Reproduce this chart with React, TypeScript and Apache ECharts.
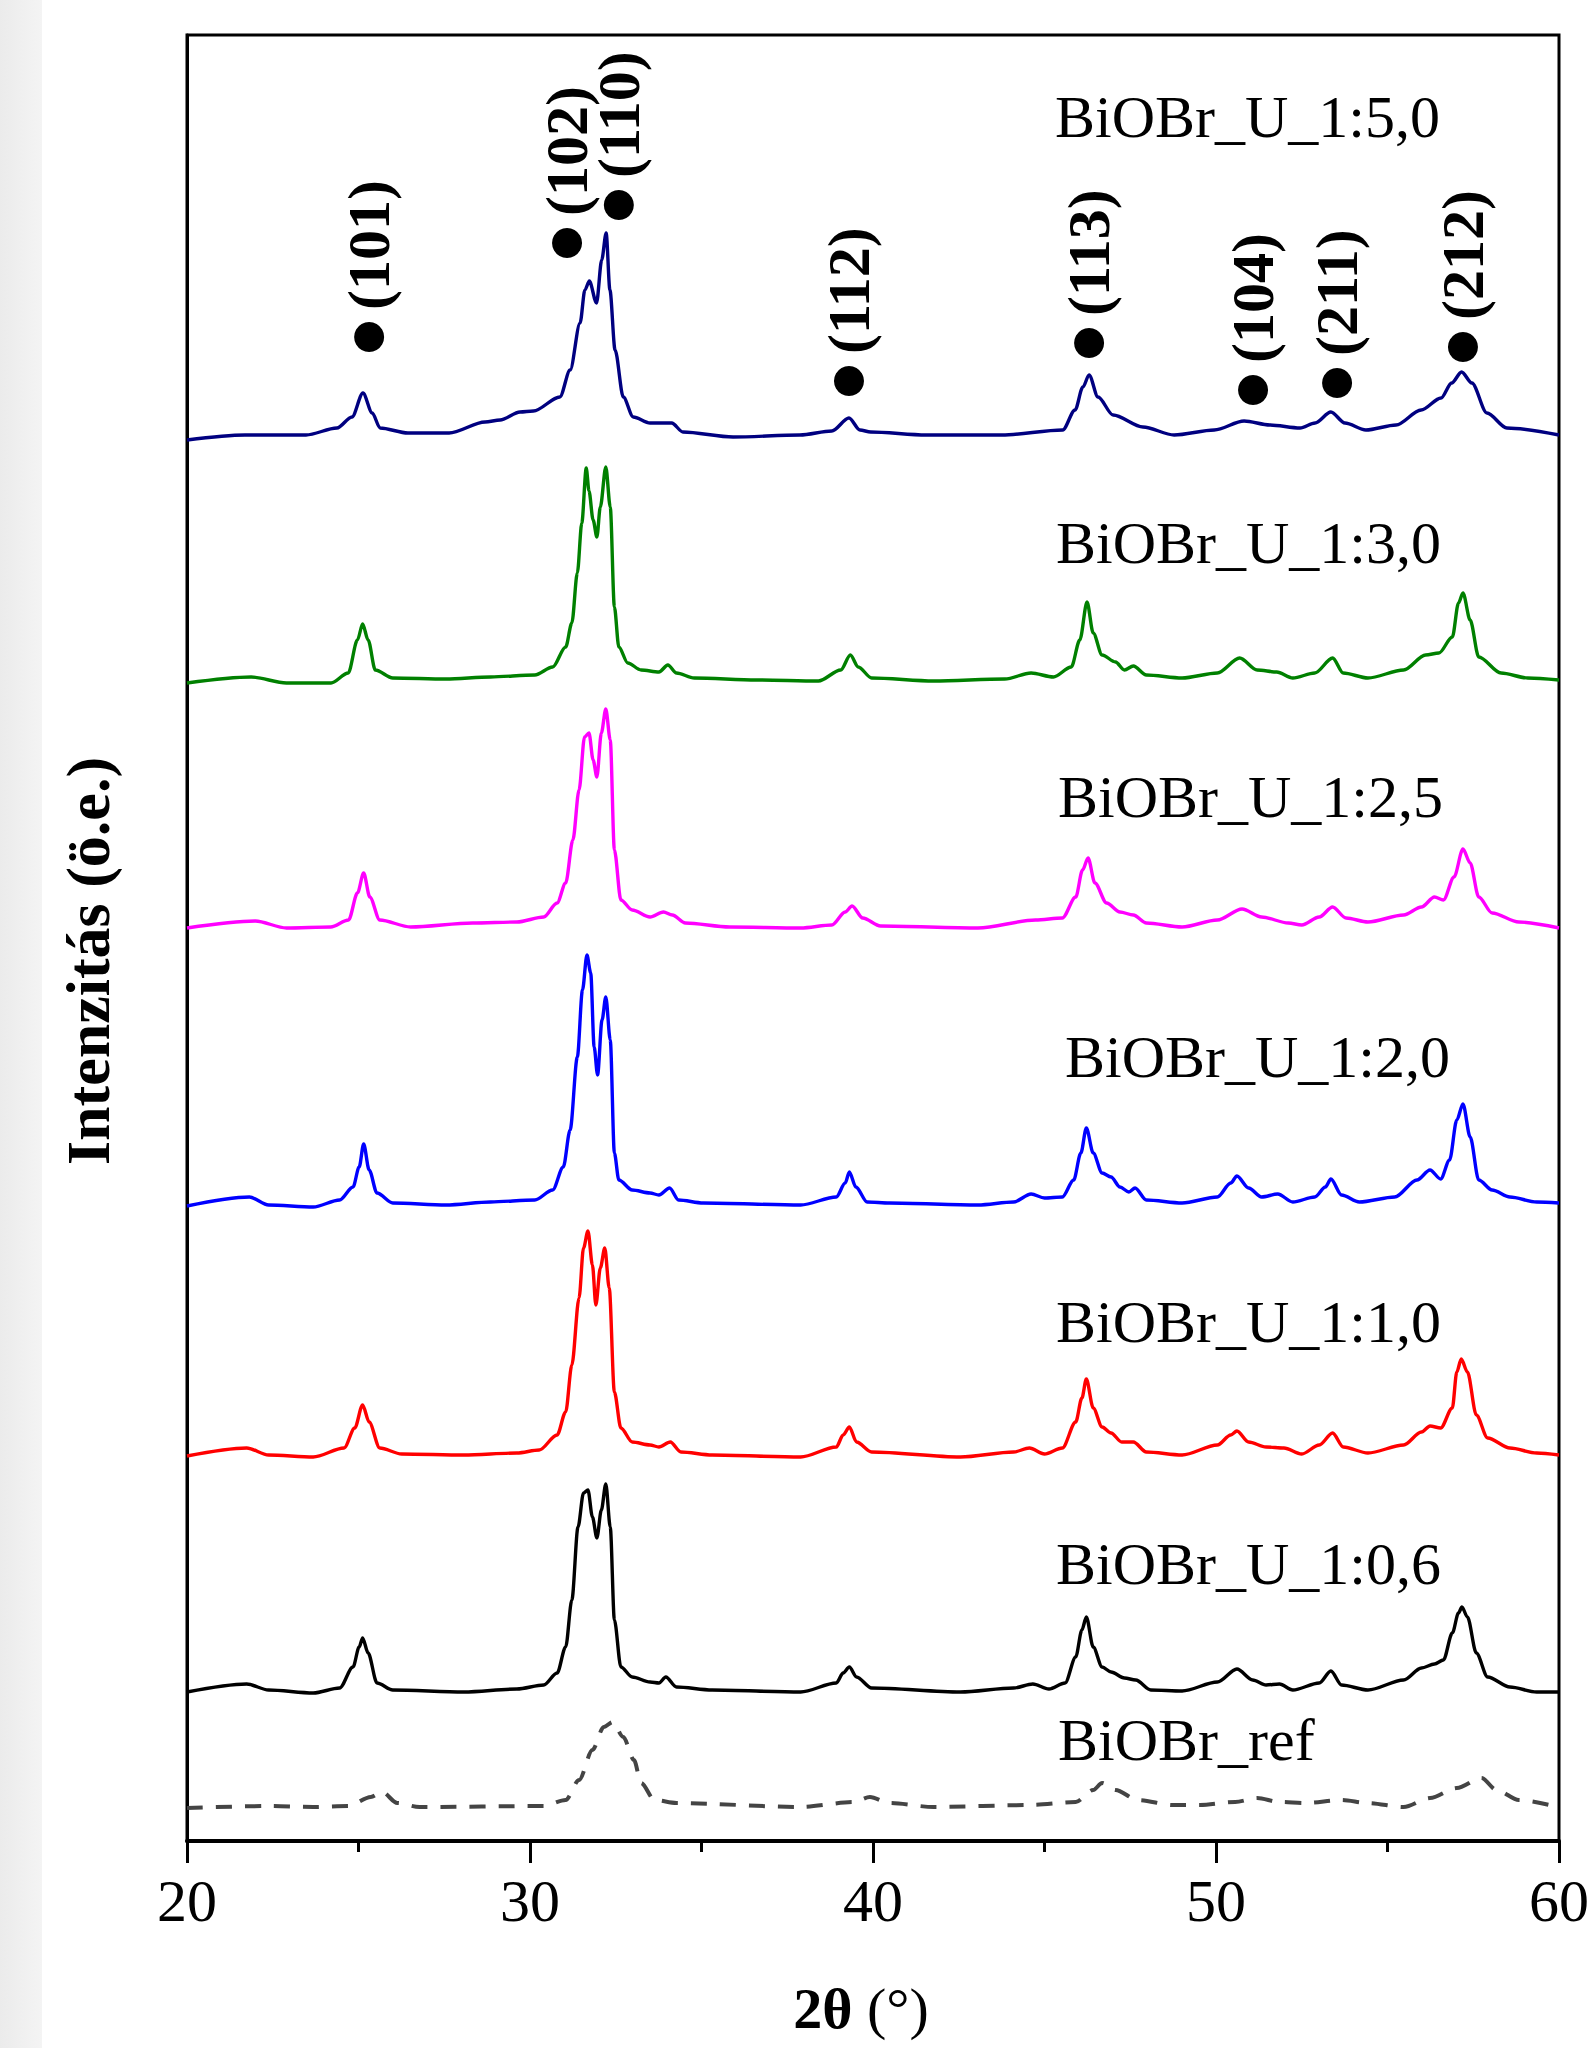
import React, { useEffect, useRef } from "react";
import * as echarts from "echarts";

// 2θ (°) vs. intensity (a.u., vertically offset stack)
const seriesNames = [
  "BiOBr_U_1:5,0",
  "BiOBr_U_1:3,0",
  "BiOBr_U_1:2,5",
  "BiOBr_U_1:2,0",
  "BiOBr_U_1:1,0",
  "BiOBr_U_1:0,6",
  "BiOBr_ref",
];

const u150: [number, number][] = [
  [20.0, 1401], [21.69, 1406], [23.47, 1406], [24.37, 1413], [24.81, 1424], [25.13, 1448], [25.4, 1428],
  [25.63, 1413], [26.44, 1408], [27.64, 1408], [28.69, 1419], [29.13, 1421], [29.71, 1429], [30.1, 1430],
  [30.87, 1444], [31.17, 1471], [31.46, 1518], [31.6, 1551], [31.73, 1560], [31.94, 1538], [32.09, 1581],
  [32.22, 1608], [32.33, 1551], [32.48, 1491], [32.72, 1444], [33.01, 1424], [33.5, 1418], [34.13, 1418],
  [34.46, 1409], [35.92, 1404], [37.87, 1406], [38.8, 1410], [39.3, 1423], [39.62, 1411], [39.93, 1409],
  [41.55, 1406], [43.76, 1406], [45.53, 1411], [45.89, 1431], [46.12, 1454], [46.3, 1466], [46.56, 1444],
  [47.0, 1426], [47.87, 1414], [48.78, 1406], [49.95, 1411], [50.82, 1420], [51.57, 1416], [52.45, 1413],
  [52.89, 1418], [53.35, 1429], [53.76, 1418], [54.37, 1411], [55.25, 1416], [55.98, 1431], [56.56, 1443],
  [56.87, 1458], [57.16, 1469], [57.46, 1458], [57.9, 1428], [58.48, 1413], [60.0, 1406],
];

const u130: [number, number][] = [
  [20.0, 1158], [21.87, 1164], [22.9, 1158], [24.2, 1158], [24.7, 1168], [24.97, 1201], [25.12, 1217],
  [25.28, 1201], [25.49, 1171], [26.0, 1163], [27.55, 1162], [28.85, 1164], [30.14, 1166], [30.66, 1174],
  [31.04, 1194], [31.22, 1218], [31.38, 1268], [31.51, 1318], [31.64, 1373], [31.72, 1350], [31.84, 1321],
  [31.95, 1304], [32.05, 1334], [32.21, 1374], [32.34, 1334], [32.46, 1234], [32.59, 1194], [32.85, 1178],
  [33.24, 1171], [33.76, 1169], [34.02, 1176], [34.27, 1168], [34.79, 1163], [36.6, 1161], [38.41, 1160],
  [39.06, 1171], [39.34, 1186], [39.57, 1174], [39.96, 1163], [41.77, 1160], [43.84, 1162], [44.61, 1168],
  [45.26, 1164], [45.78, 1174], [46.03, 1201], [46.24, 1239], [46.42, 1208], [46.68, 1186], [47.07, 1179],
  [47.33, 1171], [47.59, 1175], [47.97, 1166], [49.01, 1163], [50.04, 1168], [50.69, 1183], [51.2, 1171],
  [51.77, 1169], [52.24, 1163], [52.88, 1168], [53.4, 1183], [53.71, 1168], [54.43, 1163], [55.47, 1171],
  [56.11, 1186], [56.5, 1188], [56.89, 1204], [57.07, 1238], [57.2, 1248], [57.41, 1221], [57.66, 1184],
  [58.31, 1168], [59.09, 1163], [60.0, 1161],
];

const u125: [number, number][] = [
  [20.0, 913], [21.99, 920], [22.9, 913], [24.19, 914], [24.71, 921], [24.97, 948], [25.15, 968],
  [25.33, 944], [25.62, 921], [26.52, 914], [28.33, 918], [29.62, 919], [30.4, 924], [30.79, 938],
  [31.04, 958], [31.25, 1001], [31.43, 1051], [31.59, 1104], [31.72, 1108], [31.84, 1081], [31.95, 1064],
  [32.08, 1108], [32.21, 1132], [32.34, 1101], [32.46, 991], [32.65, 941], [32.98, 931], [33.5, 924],
  [33.89, 929], [34.15, 926], [34.53, 918], [35.82, 914], [37.89, 913], [38.8, 916], [39.19, 929],
  [39.39, 935], [39.7, 923], [40.22, 915], [43.06, 913], [44.74, 921], [45.52, 923], [45.91, 944],
  [46.11, 971], [46.27, 983], [46.47, 958], [46.81, 938], [47.2, 929], [47.59, 926], [47.97, 918],
  [49.01, 914], [50.04, 921], [50.76, 932], [51.33, 924], [52.11, 918], [52.5, 916], [53.01, 924],
  [53.4, 934], [53.79, 923], [54.43, 919], [55.47, 926], [55.99, 934], [56.37, 944], [56.63, 941],
  [56.94, 964], [57.2, 992], [57.41, 978], [57.66, 944], [58.05, 928], [58.83, 919], [60.0, 913],
];

const u120: [number, number][] = [
  [20.0, 635], [21.82, 644], [22.38, 636], [23.68, 634], [24.45, 641], [24.84, 654], [25.02, 674],
  [25.15, 697], [25.31, 671], [25.54, 648], [26.0, 638], [27.55, 636], [28.85, 639], [30.14, 641],
  [30.66, 651], [30.97, 674], [31.17, 711], [31.38, 784], [31.53, 851], [31.66, 886], [31.77, 868],
  [31.87, 794], [31.97, 766], [32.1, 821], [32.21, 844], [32.34, 801], [32.46, 688], [32.59, 661],
  [32.98, 651], [33.5, 648], [33.76, 646], [34.07, 653], [34.33, 641], [35.05, 638], [37.89, 636],
  [38.93, 644], [39.19, 658], [39.31, 669], [39.5, 654], [39.83, 639], [40.48, 638], [43.06, 636],
  [44.1, 639], [44.61, 647], [45.0, 643], [45.52, 644], [45.85, 661], [46.06, 688], [46.22, 713],
  [46.42, 688], [46.68, 668], [46.94, 664], [47.2, 654], [47.46, 649], [47.64, 653], [47.97, 641],
  [49.01, 638], [50.04, 644], [50.43, 658], [50.61, 665], [50.95, 653], [51.33, 644], [51.8, 647],
  [52.24, 639], [52.88, 644], [53.19, 654], [53.35, 662], [53.66, 646], [54.18, 639], [55.21, 644],
  [55.86, 661], [56.24, 671], [56.55, 662], [56.81, 681], [57.02, 721], [57.2, 737], [57.41, 704],
  [57.66, 661], [58.05, 651], [58.57, 644], [59.35, 639], [60.0, 638],
];

const u110: [number, number][] = [
  [20.0, 385], [21.74, 393], [22.38, 386], [23.68, 384], [24.58, 393], [24.89, 413], [25.12, 436],
  [25.31, 419], [25.62, 393], [26.26, 387], [28.07, 386], [29.62, 388], [30.27, 391], [30.79, 406],
  [31.04, 429], [31.22, 476], [31.43, 543], [31.56, 593], [31.69, 610], [31.82, 576], [31.92, 536],
  [32.05, 573], [32.18, 593], [32.31, 553], [32.46, 449], [32.65, 413], [32.98, 399], [33.5, 396],
  [33.76, 394], [34.09, 399], [34.4, 389], [35.31, 386], [37.89, 384], [38.93, 394], [39.13, 406],
  [39.31, 414], [39.52, 399], [39.96, 389], [42.55, 384], [44.1, 389], [44.56, 393], [45.0, 387],
  [45.52, 393], [45.91, 419], [46.09, 443], [46.22, 462], [46.42, 433], [46.68, 414], [46.94, 408],
  [47.25, 399], [47.59, 399], [47.97, 389], [49.01, 386], [50.04, 396], [50.43, 406], [50.61, 410],
  [50.95, 399], [51.46, 394], [51.98, 393], [52.5, 387], [53.01, 396], [53.4, 408], [53.71, 394],
  [54.43, 388], [55.47, 396], [55.99, 409], [56.24, 415], [56.55, 413], [56.89, 433], [57.02, 469],
  [57.15, 482], [57.33, 469], [57.59, 426], [57.92, 403], [58.57, 393], [59.35, 388], [60.0, 386],
];

const u106: [number, number][] = [
  [20.0, 149], [21.74, 157], [22.38, 151], [23.68, 148], [24.45, 153], [24.84, 174], [25.02, 194],
  [25.12, 203], [25.28, 188], [25.54, 158], [26.0, 151], [28.07, 149], [29.62, 152], [30.4, 156],
  [30.79, 168], [31.04, 194], [31.22, 241], [31.4, 314], [31.56, 348], [31.69, 351], [31.82, 324],
  [31.95, 303], [32.08, 331], [32.21, 357], [32.34, 314], [32.46, 221], [32.65, 174], [32.98, 164],
  [33.5, 159], [33.76, 158], [33.96, 164], [34.27, 154], [35.31, 151], [37.89, 149], [38.93, 158],
  [39.13, 168], [39.31, 174], [39.52, 164], [39.96, 153], [42.55, 149], [44.1, 153], [44.66, 157],
  [45.13, 152], [45.6, 158], [45.91, 184], [46.09, 211], [46.22, 224], [46.42, 194], [46.68, 174],
  [46.94, 169], [47.33, 163], [47.66, 161], [48.1, 151], [49.01, 150], [50.04, 159], [50.61, 172],
  [51.07, 161], [51.46, 156], [51.85, 157], [52.24, 151], [53.01, 158], [53.35, 170], [53.66, 156],
  [54.43, 151], [55.47, 161], [55.99, 173], [56.37, 177], [56.63, 181], [56.89, 208], [57.07, 228],
  [57.17, 234], [57.33, 224], [57.59, 188], [57.92, 164], [58.57, 154], [59.35, 149], [60.0, 149],
];

const ref: [number, number][] = [
  [20.0, 33], [22.38, 35], [23.68, 34], [24.71, 35], [25.36, 44], [25.69, 49], [26.13, 38], [26.78, 34],
  [30.4, 35], [31.04, 41], [31.43, 61], [31.82, 91], [32.15, 114], [32.41, 119], [32.72, 104], [33.03, 81],
  [33.24, 58], [33.63, 41], [34.27, 38], [37.89, 34], [39.44, 39], [39.91, 44], [40.48, 38], [41.77, 34],
  [44.61, 36], [45.91, 39], [46.42, 51], [46.68, 58], [47.07, 51], [47.72, 41], [48.75, 36], [49.53, 36],
  [50.56, 39], [51.2, 43], [51.85, 39], [52.62, 38], [53.66, 41], [54.43, 38], [55.47, 34], [56.24, 43],
  [57.02, 53], [57.74, 63], [58.18, 51], [58.83, 41], [59.73, 36],
];

// Peak assignments (hkl), 2θ positions and marker heights
const peakHkl = ["(101)", "(102)", "(110)", "(112)", "(113)", "(104)", "(211)", "(212)"];
const peakPos = [25.31, 31.08, 32.59, 39.3, 46.3, 51.08, 53.53, 57.2];
const peakMarkY = [1504, 1598, 1636, 1460, 1498, 1451, 1458, 1494];

const xTicks = [20, 30, 40, 50, 60];

const SERIF = '"Liberation Serif", "Times New Roman", serif';

export default function App() {
  const ref1 = useRef<HTMLDivElement>(null);

  useEffect(() => {
    if (!ref1.current) return;
    const chart = echarts.init(ref1.current, null, { renderer: "svg" });

    const curves = [u150, u130, u125, u120, u110, u106, ref];
    const colors = ["#000080", "#008000", "#ff00ff", "#0000ff", "#ff0000", "#000000", "#444444"];

    const lineSeries = curves.map((d, i) => ({
      name: seriesNames[i],
      type: "line",
      data: d,
      showSymbol: false,
      smooth: 0.3,
      smoothMonotone: "x",
      z: 2,
      lineStyle: {
        color: colors[i],
        width: i === 6 ? 4 : 3.4,
        type: i === 6 ? [16, 13] : "solid",
      },
    }));

    const labelPos: [number, number][] = [
      [1055, 117], [1056, 543], [1058, 797], [1065, 1057], [1056, 1322], [1056, 1564], [1058, 1740],
    ];

    const option: any = {
      animation: false,
      backgroundColor: "#ffffff",
      grid: {
        left: 187,
        top: 35,
        width: 1372,
        height: 1806,
        show: true,
        borderColor: "#000",
        borderWidth: 3,
        backgroundColor: "transparent",
      },
      xAxis: {
        type: "value",
        min: xTicks[0],
        max: xTicks[xTicks.length - 1],
        interval: 10,
        axisLine: { show: true, onZero: false, lineStyle: { color: "#000", width: 4 } },
        axisTick: { show: true, inside: false, length: 22, lineStyle: { color: "#000", width: 3 } },
        minorTick: { show: true, splitNumber: 2, length: 11, lineStyle: { color: "#000", width: 3 } },
        splitLine: { show: false },
        axisLabel: {
          show: true,
          margin: 30,
          fontSize: 60,
          fontFamily: SERIF,
          color: "#000",
        },
      },
      yAxis: {
        type: "value",
        min: 0,
        max: 1806,
        axisLine: { show: true, lineStyle: { color: "#000", width: 3 } },
        axisTick: { show: false },
        axisLabel: { show: false },
        splitLine: { show: false },
      },
      series: [
        ...lineSeries,
        {
          name: "peaks",
          type: "scatter",
          z: 5,
          symbol: "circle",
          symbolSize: 30,
          itemStyle: { color: "#000", opacity: 1 },
          emphasis: { disabled: true },
          data: peakPos.map((p, i) => ({
            value: [p, peakMarkY[i]],
            name: peakHkl[i],
          })),
          label: {
            show: true,
            formatter: (pr: any) => pr.name,
            position: [15, -12],
            rotate: 90,
            align: "left",
            verticalAlign: "middle",
            fontSize: 60,
            fontWeight: "bold",
            fontFamily: SERIF,
            color: "#000",
            opacity: 1,
          },
        },
      ],
      graphic: [
        {
          type: "rect",
          z: -10,
          shape: { x: 0, y: 0, width: 42, height: 2048 },
          style: {
            fill: new echarts.graphic.LinearGradient(0, 0, 1, 0, [
              { offset: 0, color: "#ebebeb" },
              { offset: 1, color: "#f4f4f4" },
            ]),
          },
        },
        ...labelPos.map((p, i) => ({
          type: "text",
          x: p[0],
          y: p[1],
          z: 10,
          style: {
            text: seriesNames[i],
            fontSize: 60,
            fontFamily: SERIF,
            fill: "#000",
            align: "left",
            verticalAlign: "middle",
          },
        })),
        {
          type: "text",
          x: 88,
          y: 961,
          rotation: Math.PI / 2,
          style: {
            text: "Intenzitás (ö.e.)",
            fontSize: 62,
            fontWeight: "bold",
            fontFamily: SERIF,
            fill: "#000",
            align: "center",
            verticalAlign: "middle",
          },
        },
        {
          type: "text",
          x: 861,
          y: 2008,
          style: {
            text: "{b|2θ }{n|(°)}",
            align: "center",
            verticalAlign: "middle",
            fill: "#000",
            rich: {
              b: { fontSize: 58, fontWeight: "bold", fontFamily: SERIF, fill: "#000" },
              n: { fontSize: 58, fontFamily: SERIF, fill: "#000" },
            },
          },
        },
      ],
    };

    chart.setOption(option);
    return () => chart.dispose();
  }, []);

  return (
    <div
      ref={ref1}
      style={{ position: "absolute", left: 0, top: 0, width: 1592, height: 2048, background: "#fff" }}
    />
  );
}
